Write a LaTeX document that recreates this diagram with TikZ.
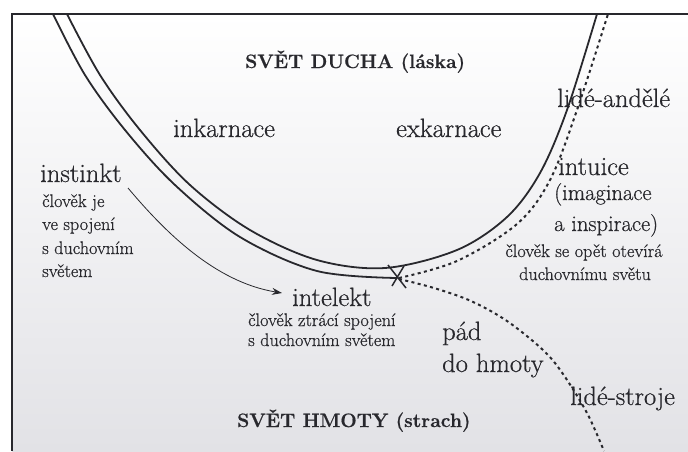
\documentclass[tikz,border=0pt]{standalone}
\usepackage{fontspec}
\setmainfont{Latin Modern Roman}[FakeBold=0.6]
\usetikzlibrary{arrows.meta}
\definecolor{ink}{RGB}{40,40,45}
\definecolor{paperlow}{RGB}{226,226,230}
\newcommand\fsTitle{\fontsize{19.4}{23}\bfseries\selectfont}
\newcommand\fsBig{\fontsize{26.5}{30}\selectfont}
\newcommand\fsMid{\fontsize{22.5}{26}\selectfont}
\newcommand\fsSmall{\fontsize{18.2}{22}\selectfont}
\begin{document}
\begin{tikzpicture}[x=1pt,y=-1pt,
  lbl/.style={inner sep=0pt, anchor=base west, text=ink},
  lblc/.style={inner sep=0pt, anchor=base, text=ink},
  soul/.style={line width=1.8pt, draw=ink},
  dots/.style={line width=2pt, draw=ink, dash pattern=on 3pt off 3.4pt},
]
\useasboundingbox (0,0) rectangle (688,451);
\fill[white] (0,0) rectangle (688,451);
\shade[top color=white, bottom color=paperlow] (12,14) rectangle (688,451);
\draw[line width=2.4pt, ink] (12,451) -- (12,14) -- (688,14);

% double U line
\draw[soul] plot[smooth, tension=0.55] coordinates {(67,14) (100,75) (140,130) (190,185) (250,230) (317,260) (385,268) (457,250) (507,217) (540,173) (567,110) (597,14)};
\draw[soul] plot[smooth, tension=0.55] coordinates {(53,14) (85,75) (125,130) (175,185) (240,237) (317,271) (397,278)};
% dotted continuations
\draw[dots] plot[smooth, tension=0.55] coordinates {(399,278) (457,261) (517,224) (550,180) (577,110) (608,14)};
\draw[dots] plot[smooth, tension=0.55] coordinates {(399,279) (434,288) (471,301) (507,321) (543,350) (563,374) (587,413) (604,451)};
% cross
\draw[line width=1.5pt, ink] (388,265) -- (406,288) (404,266) -- (392,286);

% texts
\node[lbl, font=\fsTitle] (duch) at (245,68) {SVĚT DUCHA (láska)};
\node[lbl, font=\fsTitle] (hmota) at (237,427) {SVĚT HMOTY (strach)};
\node[lbl, font=\fsBig] (inkar) at (173,137) {inkarnace};
\node[lbl, font=\fsBig] (exkar) at (396,137) {exkarnace};
\node[lbl, font=\fsBig] (andel) at (557,107) {lidé-andělé};
\node[lbl, font=\fsBig] (instinkt) at (40,182) {instinkt};
\node[lbl, font=\fsSmall] (i1) at (42,207) {člověk je};
\node[lbl, font=\fsSmall] (i2) at (42,230) {ve spojení};
\node[lbl, font=\fsSmall] (i3) at (42,254) {s duchovním};
\node[lbl, font=\fsSmall] (i4) at (42,277) {světem};
\node[lbl, font=\fsBig] (intelekt) at (292,306) {intelekt};
\node[lbl, font=\fsSmall] (t1) at (248,326) {člověk ztrácí spojení};
\node[lbl, font=\fsSmall] (t2) at (248,346) {s duchovním světem};
\node[lbl, font=\fsBig] (pad1) at (442,340) {pád};
\node[lbl, font=\fsBig] (pad2) at (442,372) {do hmoty};
\node[lbl, font=\fsBig] (stroje) at (570,405) {lidé-stroje};
\node[lbl, font=\fsBig] (intuice) at (558,175) {intuice};
\node[lbl, font=\fsMid] (imag) at (554,200) {(imaginace};
\node[lbl, font=\fsMid] (insp) at (554,231) {a inspirace)};
\node[lblc, font=\fsSmall] (o1) at (584,257) {člověk se opět otevírá};
\node[lblc, font=\fsSmall] (o2) at (585,280) {duchovnímu světu};

% arrow instinkt -> intelekt
\coordinate (as) at (128,188);
\coordinate (ae) at (282,293);
\draw[line width=0.8pt, ink, -{Stealth[length=10pt,width=7pt]}] (as) .. controls (165,232) and (215,282) .. (ae);
\end{tikzpicture}
\end{document}
